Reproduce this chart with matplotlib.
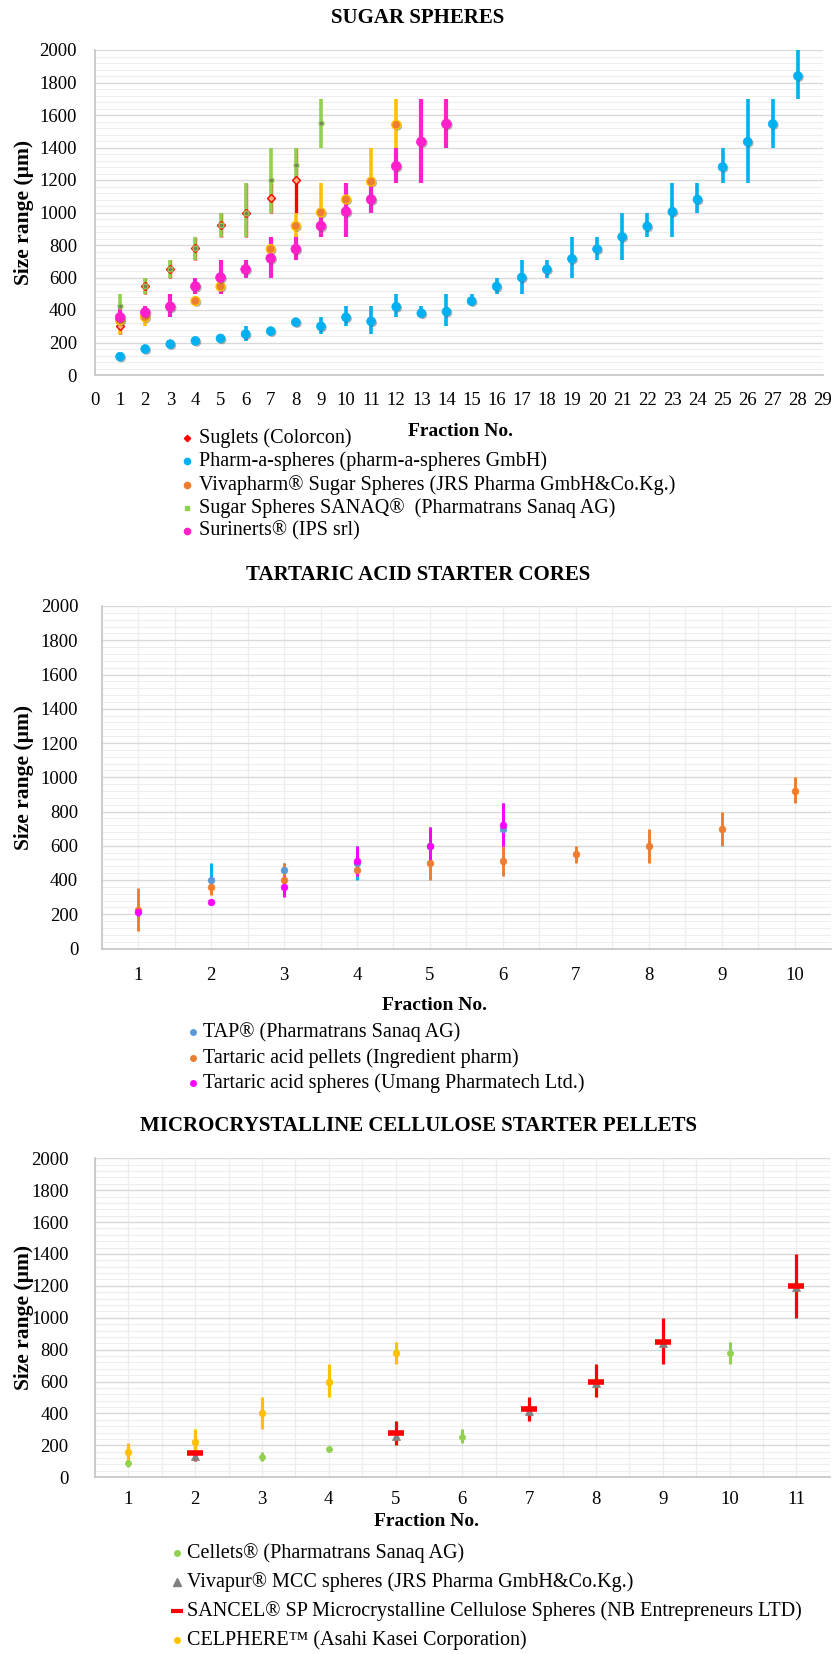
import matplotlib
matplotlib.use("Agg")
import matplotlib.pyplot as plt
import numpy as np
from matplotlib.lines import Line2D
from matplotlib.ticker import MultipleLocator
import matplotlib.patheffects as pe

plt.rcParams['font.family'] = ['Liberation Serif', 'DejaVu Serif']

# ---------------- DATA ----------------
# Sugar spheres
sug_x = [1, 2, 3, 4, 5, 6, 7, 8]
sug_mean = [300, 550, 655, 780, 925, 1000, 1090, 1200]
sug_lo = [250, 500, 600, 710, 850, 850, 1000, 1000]
sug_hi = [355, 600, 710, 850, 1000, 1180, 1180, 1400]

pas_x = list(range(1, 29))
pas_mean = [113, 160, 190, 210, 225, 252, 270, 325, 300, 355, 330, 420, 380, 390,
            455, 545, 600, 650, 715, 775, 850, 915, 1005, 1080, 1280, 1435, 1545, 1840]
pas_lo = [105, 150, 180, 190, 212, 212, 255, 305, 250, 300, 250, 355, 355, 300,
          425, 500, 500, 600, 600, 710, 710, 850, 850, 1000, 1180, 1180, 1400, 1700]
pas_hi = [125, 170, 200, 235, 240, 300, 285, 345, 355, 425, 425, 500, 425, 500,
          500, 600, 710, 710, 850, 850, 1000, 1000, 1180, 1180, 1400, 1700, 1700, 2000]

viv_x = [1, 2, 4, 5, 7, 8, 9, 10, 11, 12]
viv_mean = [335, 355, 455, 545, 775, 917, 1000, 1080, 1190, 1540]
viv_lo = [250, 300, 440, 500, 710, 850, 850, 1000, 1000, 1400]
viv_hi = [425, 425, 470, 600, 850, 1000, 1180, 1180, 1400, 1700]

san_x = [1, 2, 3, 4, 5, 6, 7, 8, 9]
san_mean = [425, 550, 655, 780, 925, 1000, 1200, 1290, 1550]
san_lo = [355, 500, 600, 710, 850, 850, 1000, 1180, 1400]
san_hi = [500, 600, 710, 850, 1000, 1180, 1400, 1400, 1700]

sur_x = list(range(1, 15))
sur_mean = [355, 385, 420, 545, 600, 650, 718, 775, 917, 1005, 1080, 1285, 1435, 1545]
sur_lo = [300, 355, 355, 500, 500, 600, 600, 710, 850, 850, 1000, 1180, 1180, 1400]
sur_hi = [425, 425, 500, 600, 710, 710, 850, 850, 1000, 1180, 1180, 1400, 1700, 1700]

# Tartaric acid
tap_x = [2, 3, 4, 5, 6]
tap_mean = [400, 460, 500, 600, 700]
tap_lo = [355, 425, 400, 500, 600]
tap_hi = [500, 500, 600, 710, 850]

tai_x = [1, 2, 3, 4, 5, 6, 7, 8, 9, 10]
tai_mean = [225, 360, 400, 460, 500, 510, 550, 600, 700, 920]
tai_lo = [100, 315, 315, 425, 400, 425, 500, 500, 600, 850]
tai_hi = [355, 400, 500, 500, 600, 600, 600, 700, 800, 1000]

tau_x = [1, 2, 3, 4, 5, 6]
tau_mean = [215, 270, 360, 510, 600, 720]
tau_lo = [190, 262, 300, 425, 500, 600]
tau_hi = [240, 278, 425, 600, 710, 850]

# MCC
cel_x = [1, 3, 4, 6, 10]
cel_mean = [90, 128, 175, 255, 780]
cel_lo = [65, 100, 162, 212, 710]
cel_hi = [120, 155, 190, 300, 850]

vmc_x = [2, 5, 7, 8, 9, 11]
vmc_mean = [135, 260, 415, 590, 840, 1190]

snc_x = [2, 5, 7, 8, 9, 11]
snc_mean = [150, 275, 425, 600, 850, 1200]
snc_lo = [100, 200, 355, 500, 710, 1000]
snc_hi = [200, 355, 500, 710, 1000, 1400]

cph_x = [1, 2, 3, 4, 5]
cph_mean = [160, 220, 400, 600, 780]
cph_lo = [106, 150, 300, 500, 710]
cph_hi = [212, 300, 500, 710, 850]

top_labels = ["Suglets (Colorcon)", "Pharm-a-spheres (pharm-a-spheres GmbH)",
              "Vivapharm® Sugar Spheres (JRS Pharma GmbH&Co.Kg.)",
              "Sugar Spheres SANAQ®  (Pharmatrans Sanaq AG)", "Surinerts® (IPS srl)"]
mid_labels = ["TAP® (Pharmatrans Sanaq AG)", "Tartaric acid pellets (Ingredient pharm)",
              "Tartaric acid spheres (Umang Pharmatech Ltd.)"]
bot_labels = ["Cellets® (Pharmatrans Sanaq AG)", "Vivapur® MCC spheres (JRS Pharma GmbH&Co.Kg.)",
              "SANCEL® SP Microcrystalline Cellulose Spheres (NB Entrepreneurs LTD)",
              "CELPHERE\u2122 (Asahi Kasei Corporation)"]
titles = ["SUGAR SPHERES", "TARTARIC ACID STARTER CORES", "MICROCRYSTALLINE CELLULOSE STARTER PELLETS"]

# ---------------- FIGURE ----------------
W, H = 836, 1654
fig = plt.figure(figsize=(W / 100, H / 100), dpi=100)

def fx(px):
    return px / W

def fy(py):
    return 1 - py / H

def make_axes(left, right, top, bottom):
    return fig.add_axes([fx(left), fy(bottom), (right - left) / W, (bottom - top) / H])

TICK_FS = 13.5
LEG_FS = 14.5
TITLE_FS = 15
LAB_FS = 14

def style(ax, vgrid, xpad, ypad):
    ax.set_ylim(0, 2000)
    ax.yaxis.set_major_locator(MultipleLocator(200))
    ax.yaxis.set_minor_locator(MultipleLocator(40))
    ax.grid(which='major', axis='y', color='#D9D9D9', lw=1.0, zorder=0)
    ax.grid(which='minor', axis='y', color='#EDEDED', lw=0.8, zorder=0)
    if vgrid:
        ax.xaxis.set_minor_locator(MultipleLocator(0.5))
        ax.grid(which='major', axis='x', color='#EDEDED', lw=0.9, zorder=0)
        ax.grid(which='minor', axis='x', color='#EDEDED', lw=0.9, zorder=0)
    ax.set_axisbelow(True)
    for s in ['top', 'right']:
        ax.spines[s].set_visible(False)
    for s in ['left', 'bottom']:
        ax.spines[s].set_color('#C8C8C8')
        ax.spines[s].set_linewidth(1.3)
    ax.tick_params(which='both', length=0, labelsize=TICK_FS, colors='#000000')
    ax.tick_params(axis='x', pad=xpad)
    ax.tick_params(axis='y', pad=ypad)

shadow = [pe.SimplePatchShadow(offset=(1.0, -1.0), shadow_rgbFace='#555555', alpha=0.45), pe.Normal()]

def bars(ax, x, m, lo, hi, color, lw):
    m = np.array(m, float)
    ax.errorbar(x, m, yerr=[m - np.array(lo, float), np.array(hi, float) - m], fmt='none',
                ecolor=color, elinewidth=lw, capsize=0, zorder=2)

def marks(ax, x, m, marker, ms, mfc, mec, mew=0.8, shad=False):
    ln, = ax.plot(x, m, ls='none', marker=marker, ms=ms, mfc=mfc, mec=mec, mew=mew, zorder=3)
    if shad:
        ln.set_path_effects(shadow)

red = '#FF0000'; blue = '#00B0F0'; orange = '#ED7D31'; gold = '#FFC000'
green = '#92D050'; pink = '#FF1FCB'

# ---------- Top chart ----------
ax1 = make_axes(95, 823, 50, 375)
style(ax1, False, 12, 13)
ax1.set_xlim(0, 29)
ax1.set_xticks(range(0, 30))

bars(ax1, sug_x, sug_mean, sug_lo, sug_hi, red, 2.4)
bars(ax1, pas_x, pas_mean, pas_lo, pas_hi, blue, 2.6)
bars(ax1, viv_x, viv_mean, viv_lo, viv_hi, gold, 2.6)
bars(ax1, san_x, san_mean, san_lo, san_hi, green, 2.6)
bars(ax1, sur_x, sur_mean, sur_lo, sur_hi, pink, 3.0)
marks(ax1, sug_x, sug_mean, 'D', 3.6, '#FFB27A', red, 1.0)
marks(ax1, pas_x, pas_mean, 'o', 6.4, blue, blue, 0.5, True)
marks(ax1, viv_x, viv_mean, 'o', 6.4, orange, gold, 1.0, True)
marks(ax1, san_x, san_mean, 'o', 3.6, '#7A8060', green, 0.9)
marks(ax1, sur_x, sur_mean, 'o', 7.0, pink, pink, 0.5, True)

# ---------- Middle chart ----------
ax2 = make_axes(101.8, 831, 606, 948.5)
style(ax2, True, 13, 17)
ax2.set_xlim(0.5, 10.5)
ax2.set_xticks(range(1, 11))
tap_c = '#5B9BD5'; tai_c = '#ED7D31'; tau_c = '#FF00FF'
bars(ax2, tap_x, tap_mean, tap_lo, tap_hi, '#00B0F0', 2.1)
bars(ax2, tai_x, tai_mean, tai_lo, tai_hi, tai_c, 2.1)
bars(ax2, tau_x, tau_mean, tau_lo, tau_hi, tau_c, 2.1)
marks(ax2, tap_x, tap_mean, 'o', 4.8, tap_c, tap_c, 0.5)
marks(ax2, tai_x, tai_mean, 'o', 4.8, tai_c, tai_c, 0.5)
marks(ax2, tau_x, tau_mean, 'o', 4.8, tau_c, tau_c, 0.5)

# ---------- Bottom chart ----------
ax3 = make_axes(95, 829.7, 1158.3, 1477.2)
style(ax3, True, 10, 19)
ax3.set_xlim(0.5, 11.5)
ax3.set_xticks(range(1, 12))
cel_c = '#92D050'; vmc_c = '#808080'; snc_c = '#FF0000'; cph_c = '#FFC000'
bars(ax3, cel_x, cel_mean, cel_lo, cel_hi, cel_c, 2.2)
bars(ax3, snc_x, snc_mean, snc_lo, snc_hi, snc_c, 2.3)
bars(ax3, cph_x, cph_mean, cph_lo, cph_hi, cph_c, 2.3)
marks(ax3, cel_x, cel_mean, 'o', 4.4, cel_c, cel_c, 0.5)
marks(ax3, vmc_x, vmc_mean, '^', 6.0, vmc_c, vmc_c, 0.5)
marks(ax3, snc_x, snc_mean, '_', 11.0, snc_c, snc_c, 4.0)
marks(ax3, cph_x, cph_mean, 'o', 4.8, cph_c, cph_c, 0.5)

# ---------- Titles, labels ----------
fig.text(0.5, fy(18), titles[0], ha='center', va='center', fontsize=TITLE_FS, fontweight='bold')
fig.text(0.5, fy(575), titles[1], ha='center', va='center', fontsize=TITLE_FS, fontweight='bold')
fig.text(0.5, fy(1126), titles[2], ha='center', va='center', fontsize=TITLE_FS, fontweight='bold')

for yc in [(50 + 375) / 2, (606 + 948.5) / 2, (1158.3 + 1477.2) / 2]:
    fig.text(fx(24), fy(yc), "Size range (µm)", rotation=90, ha='center', va='center',
             fontsize=LAB_FS + 1.5, fontweight='bold')

fig.text(fx(460), fy(431), "Fraction No.", ha='center', va='center', fontsize=LAB_FS, fontweight='bold')
fig.text(fx(435), fy(1005), "Fraction No.", ha='center', va='center', fontsize=LAB_FS, fontweight='bold')
fig.text(fx(427), fy(1522), "Fraction No.", ha='center', va='center', fontsize=LAB_FS, fontweight='bold')

# ---------- Legends ----------
def leg_entry(mx, tx, y, label, **mk):
    fig.add_artist(Line2D([fx(mx)], [fy(y)], transform=fig.transFigure, ls='none', **mk))
    fig.text(fx(tx), fy(y), label, ha='left', va='center', fontsize=LEG_FS)

top_mk = [dict(marker='D', ms=3.2, mfc=red, mec=red),
          dict(marker='o', ms=4.5, mfc=blue, mec=blue),
          dict(marker='o', ms=4.5, mfc=orange, mec=orange),
          dict(marker='s', ms=3.2, mfc=green, mec=green),
          dict(marker='o', ms=4.5, mfc=pink, mec=pink)]
for i, (lab, mk) in enumerate(zip(top_labels, top_mk)):
    leg_entry(187, 199, 438 + i * 23.3, lab, **mk)

mid_mk = [dict(marker='o', ms=4.0, mfc=tap_c, mec=tap_c),
          dict(marker='o', ms=4.0, mfc=tai_c, mec=tai_c),
          dict(marker='o', ms=4.0, mfc=tau_c, mec=tau_c)]
for i, (lab, mk) in enumerate(zip(mid_labels, mid_mk)):
    leg_entry(193, 203, 1032 + i * 25.7, lab, **mk)

bot_mk = [dict(marker='o', ms=4.0, mfc=cel_c, mec=cel_c),
          dict(marker='^', ms=6.0, mfc=vmc_c, mec=vmc_c),
          dict(marker='_', ms=9.0, mfc=snc_c, mec=snc_c, mew=3.0),
          dict(marker='o', ms=4.0, mfc=cph_c, mec=cph_c)]
for i, (lab, mk) in enumerate(zip(bot_labels, bot_mk)):
    leg_entry(177, 187, 1553 + i * 29, lab, **mk)

fig.savefig("out.png", dpi=100)
